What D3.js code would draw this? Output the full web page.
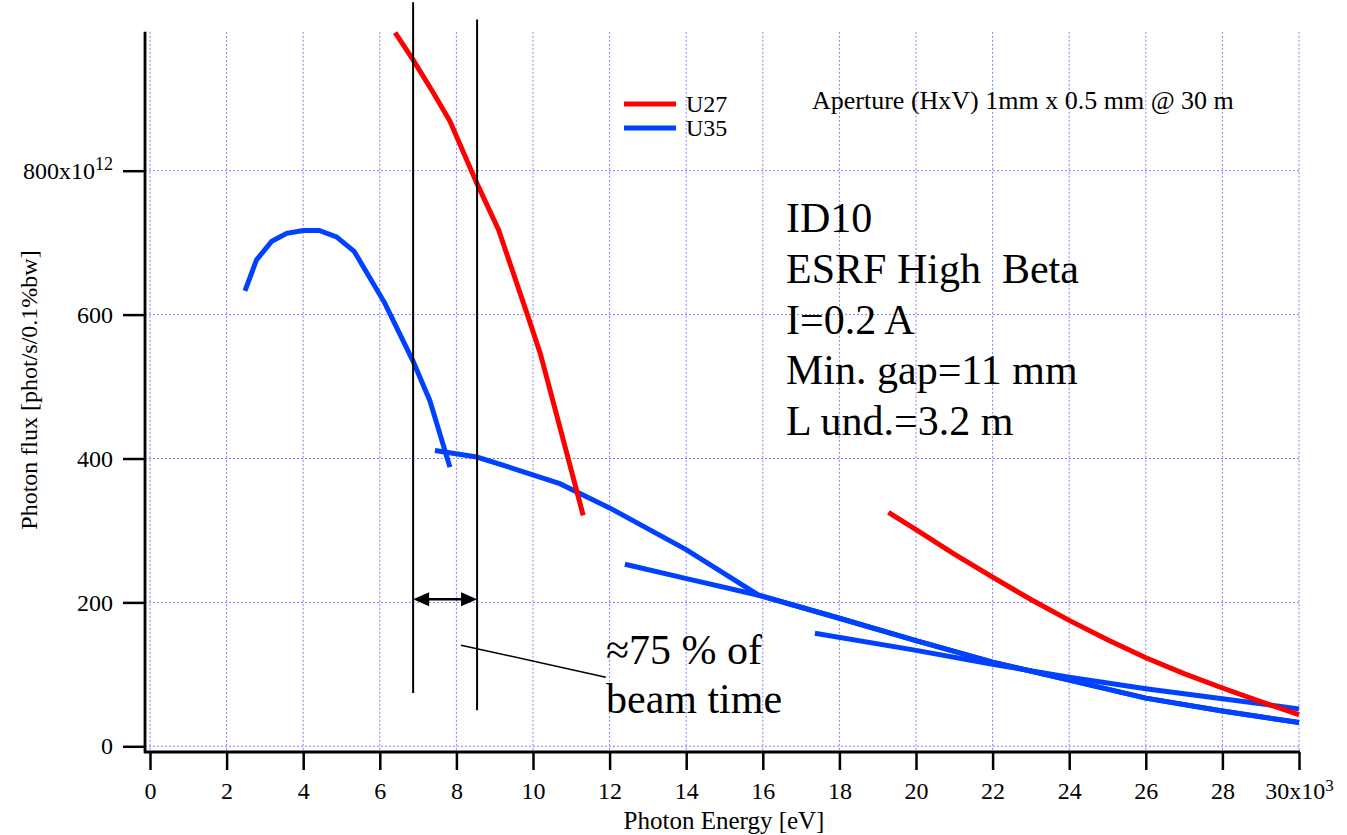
<!DOCTYPE html>
<html>
<head>
<meta charset="utf-8">
<script src="https://cdn.jsdelivr.net/npm/d3@7"></script>
<style>
  body { margin: 0; background: #fff; }
  svg { display: block; }
  text { font-family: "Liberation Serif", "Times New Roman", serif; fill: #000; }
</style>
</head>
<body>
<div id="chart"></div>
<script>
// tick values
const energyTicks = d3.range(0, 31, 2);          // keV (x10^3 eV)
const fluxTicks = [0, 200, 400, 600, 800];       // x10^12

// U27, first harmonic
const u27h1Energy = [6.40, 6.87, 7.40, 7.83, 8.53, 9.10, 9.84, 10.19, 10.70, 11.31];
const u27h1Flux   = [992, 954, 908, 869, 783, 718, 602, 546, 444, 321];
// U27, third harmonic
const u27h3Energy = [19.28, 20, 21, 22, 23, 24, 25, 26, 27, 28, 29, 30];
const u27h3Flux   = [325, 301, 267, 235, 204, 175, 148, 123, 101, 81, 62, 44];

// U35, first harmonic
const u35h1Energy = [2.48, 2.78, 3.18, 3.57, 4.00, 4.42, 4.87, 5.33, 6.13, 6.87, 7.31, 7.83];
const u35h1Flux   = [633, 676, 702, 713, 717, 717, 708, 688, 616, 535, 480, 388];
// U35, third harmonic
const u35h3Energy = [7.44, 8.53, 9.49, 10.70, 12.01, 14.01, 15.89, 18, 20, 22, 24, 26, 28, 30];
const u35h3Flux   = [411, 402, 386, 365, 331, 273, 210, 178, 147, 117, 92, 67, 49, 33];
// U35, fifth harmonic
const u35h5Energy = [12.40, 14.01, 15.89, 18, 20, 22, 24, 26, 28, 30];
const u35h5Flux   = [253, 233, 210, 178, 147, 117, 92, 67, 49, 33];
// U35, seventh harmonic
const u35h7Energy = [17.36, 19.93, 22, 24, 26, 28, 30];
const u35h7Flux   = [157, 134, 114, 96, 80, 66, 52];

const legendNames = ["U27", "U35"];
const infoLines = ["ID10", "ESRF High  Beta", "I=0.2 A", "Min. gap=11 mm", "L und.=3.2 m"];
const noteLines = ["\u224875 % of", "beam time"];
const apertureText = "Aperture (HxV) 1mm x 0.5 mm @ 30 m";

// beam-time markers (keV) and their extents (flux units)
const markerEnergy = [6.87, 8.54];
const markerTop = [1034, 1010];
const markerBottom = [74, 50];
const arrowFlux = 204.5;
const leaderFrom = [8.12, 140.5];
const leaderTo = [11.9, 96];

const RED = "#ff0000", BLUE = "#0041ff", GRID = "#7f7fff";

const W = 1347, H = 835;
const svg = d3.select("#chart").append("svg")
    .attr("width", W)
    .attr("height", H);

const x = d3.scaleLinear().domain([0, 30]).range([150, 1299]);
const y = d3.scaleLinear().domain([0, 800]).range([746.3, 170.7]);
const yTop = 993;          // top of the plot area, in flux units
const axisX = 145, axisY = 752;

// grid
const grid = svg.append("g")
    .attr("stroke", GRID)
    .attr("stroke-width", 1)
    .attr("stroke-dasharray", "2,2");
grid.selectAll(".gv")
    .data(energyTicks)
    .enter().append("line")
    .attr("x1", d => x(d)).attr("x2", d => x(d))
    .attr("y1", y(yTop)).attr("y2", axisY);
grid.selectAll(".gh")
    .data(fluxTicks)
    .enter().append("line")
    .attr("x1", axisX).attr("x2", x(30))
    .attr("y1", d => y(d)).attr("y2", d => y(d));

// x axis
const xAxis = svg.append("g")
    .attr("transform", "translate(0," + axisY + ")")
    .call(d3.axisBottom(x).tickValues(energyTicks).tickSize(18).tickSizeOuter(0).tickPadding(12));
xAxis.select(".domain").remove();
xAxis.selectAll(".tick line").attr("stroke-width", 2.5);
xAxis.selectAll(".tick text")
    .style("font-size", "24px")
    .style("font-family", "Liberation Serif, serif")
    .each(function (d) {
        if (d === 30) {
            const t = d3.select(this).text("30x10");
            t.append("tspan").attr("dy", "-0.5em").style("font-size", "17px").text("3");
        }
    });

// y axis
const yAxis = svg.append("g")
    .attr("transform", "translate(" + axisX + ",0)")
    .call(d3.axisLeft(y).tickValues(fluxTicks).tickSize(22).tickSizeOuter(0).tickPadding(10));
yAxis.select(".domain").remove();
yAxis.selectAll(".tick line").attr("stroke-width", 2.5);
yAxis.selectAll(".tick text")
    .style("font-size", "24px")
    .style("font-family", "Liberation Serif, serif")
    .each(function (d) {
        if (d === 800) {
            const t = d3.select(this).text("800x10");
            t.append("tspan").attr("dy", "-0.5em").style("font-size", "18px").text("12");
        }
    });

// axis lines
svg.append("line")
    .attr("x1", axisX).attr("x2", axisX)
    .attr("y1", y(yTop)).attr("y2", axisY + 1)
    .attr("stroke", "#000").attr("stroke-width", 2.8);
svg.append("line")
    .attr("x1", axisX - 1).attr("x2", x(30) + 1)
    .attr("y1", axisY).attr("y2", axisY)
    .attr("stroke", "#000").attr("stroke-width", 2.8);

// axis titles
svg.append("text")
    .attr("x", 724).attr("y", 829)
    .attr("text-anchor", "middle")
    .style("font-size", "25px")
    .text("Photon Energy [eV]");
svg.append("text")
    .attr("transform", "translate(37,390) rotate(-90)")
    .attr("text-anchor", "middle")
    .style("font-size", "24px")
    .text("Photon flux [phot/s/0.1%bw]");

// curves
const line = d3.line()
    .x(d => x(d[0]))
    .y(d => y(d[1]));

const series = [
    { e: u35h1Energy, f: u35h1Flux, c: BLUE },
    { e: u35h3Energy, f: u35h3Flux, c: BLUE },
    { e: u35h5Energy, f: u35h5Flux, c: BLUE },
    { e: u35h7Energy, f: u35h7Flux, c: BLUE },
    { e: u27h1Energy, f: u27h1Flux, c: RED },
    { e: u27h3Energy, f: u27h3Flux, c: RED }
];
svg.selectAll(".curve")
    .data(series)
    .enter().append("path")
    .attr("class", "curve")
    .attr("fill", "none")
    .attr("stroke", d => d.c)
    .attr("stroke-width", 5)
    .attr("d", d => line(d.e.map((v, i) => [v, d.f[i]])));

// beam-time markers
svg.selectAll(".marker")
    .data(markerEnergy)
    .enter().append("line")
    .attr("x1", d => x(d)).attr("x2", d => x(d))
    .attr("y1", (d, i) => y(markerTop[i]))
    .attr("y2", (d, i) => y(markerBottom[i]))
    .attr("stroke", "#000").attr("stroke-width", 2);

// double arrow between the markers
const ax1 = x(markerEnergy[0]), ax2 = x(markerEnergy[1]), ay = y(arrowFlux);
svg.append("line")
    .attr("x1", ax1 + 10).attr("x2", ax2 - 10)
    .attr("y1", ay).attr("y2", ay)
    .attr("stroke", "#000").attr("stroke-width", 2.5);
svg.append("path")
    .attr("d", `M${ax1},${ay} L${ax1 + 16},${ay - 7} L${ax1 + 16},${ay + 7} Z`)
    .attr("fill", "#000");
svg.append("path")
    .attr("d", `M${ax2},${ay} L${ax2 - 16},${ay - 7} L${ax2 - 16},${ay + 7} Z`)
    .attr("fill", "#000");

// leader line to the note
svg.append("line")
    .attr("x1", x(leaderFrom[0])).attr("y1", y(leaderFrom[1]))
    .attr("x2", x(leaderTo[0])).attr("y2", y(leaderTo[1]))
    .attr("stroke", "#000").attr("stroke-width", 1.5);

svg.selectAll(".note")
    .data(noteLines)
    .enter().append("text")
    .attr("x", 606)
    .attr("y", (d, i) => 664 + i * 49)
    .style("font-size", "42px")
    .text(d => d);

// info block
svg.selectAll(".info")
    .data(infoLines)
    .enter().append("text")
    .attr("x", 786)
    .attr("y", (d, i) => 232 + i * 50.8)
    .style("font-size", "42px")
    .style("white-space", "pre")
    .attr("xml:space", "preserve")
    .text(d => d);

// legend
const legend = svg.append("g");
legend.selectAll("line")
    .data(legendNames)
    .enter().append("line")
    .attr("x1", 624).attr("x2", 676)
    .attr("y1", (d, i) => 104 + i * 24)
    .attr("y2", (d, i) => 104 + i * 24)
    .attr("stroke", (d, i) => i === 0 ? RED : BLUE)
    .attr("stroke-width", 5);
legend.selectAll("text")
    .data(legendNames)
    .enter().append("text")
    .attr("x", 686)
    .attr("y", (d, i) => 112 + i * 24)
    .style("font-size", "24px")
    .text(d => d);

svg.append("text")
    .attr("x", 812).attr("y", 109)
    .style("font-size", "26px")
    .text(apertureText);
</script>
</body>
</html>
